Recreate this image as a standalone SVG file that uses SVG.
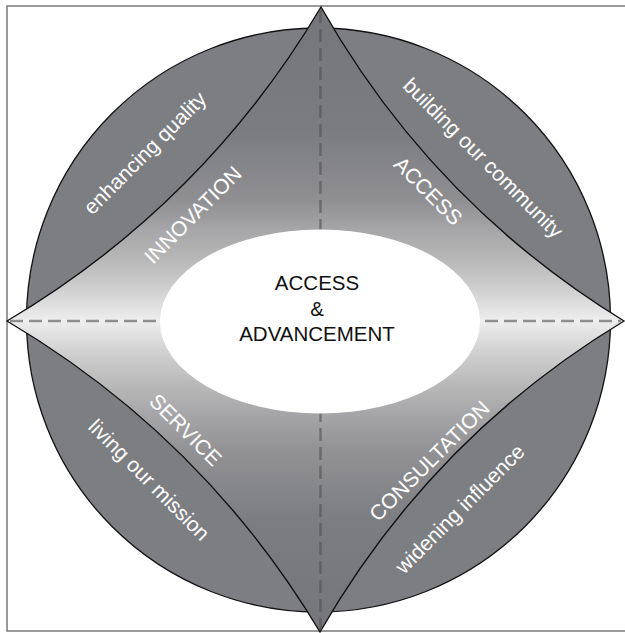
<svg xmlns="http://www.w3.org/2000/svg" width="625" height="633" viewBox="0 0 625 633">
  <style>
    .frame { fill: none; stroke: #7a7a7a; stroke-width: 1.5; }
    .disc { fill: #7d7e82; stroke: #111; stroke-width: 1.3; }
    .star { fill: url(#starShade); stroke: #111; stroke-width: 1.4; stroke-linejoin: miter; }
    .axis { stroke: #505050; stroke-opacity: 0.6; stroke-width: 2.4; stroke-dasharray: 13 6; fill: none; }
    .hub { fill: #fff; }
    .hubText { font-family: "Liberation Sans", Arial, sans-serif; font-size: 20.5px; fill: #111; text-anchor: middle; }
    .label { font-family: "Liberation Sans", Arial, sans-serif; font-size: 21px; fill: #fff; text-anchor: middle; }
  </style>
  <defs>
    <linearGradient id="starShade" gradientUnits="userSpaceOnUse" x1="0" y1="7" x2="0" y2="632">
      <stop offset="0" stop-color="#75767a"/>
      <stop offset="0.197" stop-color="#7b7c80"/>
      <stop offset="0.309" stop-color="#8f8f92"/>
      <stop offset="0.357" stop-color="#a6a6a8"/>
      <stop offset="0.405" stop-color="#b8b8b8"/>
      <stop offset="0.453" stop-color="#d0d0d0"/>
      <stop offset="0.502" stop-color="#eeeeee"/>
      <stop offset="0.549" stop-color="#d2d2d2"/>
      <stop offset="0.597" stop-color="#bcbcbc"/>
      <stop offset="0.645" stop-color="#a8a8aa"/>
      <stop offset="0.709" stop-color="#929295"/>
      <stop offset="0.821" stop-color="#7c7d80"/>
      <stop offset="1" stop-color="#75767a"/>
    </linearGradient>
  </defs>

  <!-- outer frame (open on the right) -->
  <path class="frame" d="M625 6 H7 V631 H625"/>

  <!-- background disc -->
  <circle id="disc" class="disc" cx="318.5" cy="320" r="292"/>

  <!-- four-pointed star with concave sides -->
  <path id="star" class="star" d="M321 7 Q432 203 624 321 Q432 437 320 632 Q203 437 7 321 Q204 204 321 7 Z"/>

  <!-- dashed axes -->
  <g id="connectors">
    <line class="axis" x1="320.5" y1="10" x2="320.5" y2="630"/>
    <line class="axis" x1="10" y1="321" x2="621" y2="321"/>
  </g>

  <!-- central hub -->
  <g id="hub">
    <ellipse class="hub" cx="320" cy="321.5" rx="160" ry="92"/>
    <text class="hubText" x="317" y="290">ACCESS</text>
    <text class="hubText" x="317" y="316">&amp;</text>
    <text class="hubText" x="317" y="341">ADVANCEMENT</text>
  </g>

  <!-- quadrant labels -->
  <g id="innovation">
    <text class="label" transform="translate(150 158) rotate(-45)">enhancing quality</text>
    <text class="label" transform="translate(198 220) rotate(-45)">INNOVATION</text>
  </g>
  <g id="access">
    <text class="label" transform="translate(478 163) rotate(45)">building our community</text>
    <text class="label" transform="translate(423 196) rotate(45)">ACCESS</text>
  </g>
  <g id="service">
    <text class="label" transform="translate(180.5 435) rotate(45)">SERVICE</text>
    <text class="label" transform="translate(144 485) rotate(45)">living our mission</text>
  </g>
  <g id="consultation">
    <text class="label" transform="translate(434.5 466) rotate(-45)">CONSULTATION</text>
    <text class="label" transform="translate(465 514) rotate(-45)">widening influence</text>
  </g>
</svg>
